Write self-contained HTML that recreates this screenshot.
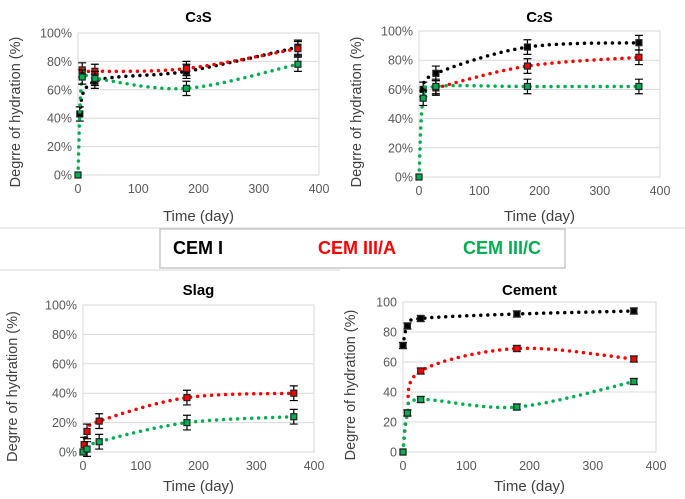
<!DOCTYPE html>
<html><head><meta charset="utf-8"><style>
body{margin:0;background:#fff;width:685px;height:499px;overflow:hidden;font-family:"Liberation Sans",sans-serif}
svg{display:block}
</style></head><body>
<svg id="s" width="685" height="499" xmlns="http://www.w3.org/2000/svg">
<line x1="0" y1="228" x2="685" y2="228" stroke="#d9d9d9"/>
<line x1="0" y1="270" x2="340" y2="270" stroke="#d9d9d9"/>
<g>
<rect x="160" y="229" width="405" height="39" fill="#fff" stroke="#c8c8c8" stroke-width="1.5"/>
<text x="173" y="254" font-size="18" font-weight="bold" fill="#000">CEM I</text>
<text x="318" y="254" font-size="18" font-weight="bold" fill="#ff0000">CEM III/A</text>
<text x="463" y="254" font-size="18" font-weight="bold" fill="#00b050">CEM III/C</text>
</g>
</svg>
<script>
// C3S
const c3sBlackX=[3,28,180,365], c3sBlackY=[43,66,73,90];
const c3sRedX=[7,28,180,365], c3sRedY=[74,73,75,89];
const c3sGreenX=[0,7,28,180,365], c3sGreenY=[0,69,68,61,78];
// C2S
const c2sBlackX=[7,28,180,365], c2sBlackY=[60,71,89,92];
const c2sRedX=[28,180,365], c2sRedY=[61,76,82];
const c2sGreenX=[0,7,28,180,365], c2sGreenY=[0,54,62,62,62];
// Slag
const slagRedX=[2,7,28,180,365], slagRedY=[5,14,21,37,40];
const slagGreenX=[0,7,28,180,365], slagGreenY=[0,2,7,20,24];
// Cement
const cemBlackX=[0,7,28,180,365], cemBlackY=[71,84,89,92,94];
const cemRedX=[0,7,28,180,365], cemRedY=[0,26,54,69,62];
const cemGreenX=[0,7,28,180,365], cemGreenY=[0,26,35,30,47];
const xTicks=[0,100,200,300,400];
const yTicks=[0,20,40,60,80,100];

const NS="http://www.w3.org/2000/svg";
const svg=document.getElementById('s');
function mk(tag,attrs,parent){const e=document.createElementNS(NS,tag);for(const k in attrs)e.setAttribute(k,attrs[k]);(parent||svg).appendChild(e);return e;}
const COL={black:'#000',red:'#ff0000',green:'#00b050'};

function chart(cfg){
  const g=mk('g',{});
  
  
  const {l,r,t,b}=cfg;
  const sx=v=>l+(v/400)*(r-l), sy=v=>b-(v/100)*(b-t);
  const bg=mk('rect',{x:l,y:t,width:r-l,height:b-t,fill:'#fff',stroke:'#d9d9d9'},g);
  
  
  yTicks.forEach(v=>{
    const ln=mk('line',{x1:l,x2:r,y1:sy(v),y2:sy(v),stroke:'#d9d9d9'},g);
    
    
    const tx=mk('text',{x:l-6,y:sy(v)+4.5,'font-size':12.5,'text-anchor':'end',fill:'#595959'},g);
    tx.textContent=cfg.pct?v+'%':v;
    
    
  });
  xTicks.forEach(v=>{
    const tx=mk('text',{x:sx(v),y:b+18,'font-size':12.5,'text-anchor':'middle',fill:'#595959'},g);
    tx.textContent=v;
    
    
  });
  const ti=mk('text',{x:(l+r)/2,y:cfg.titleY,'font-size':15,'font-weight':'bold','text-anchor':'middle',fill:'#000'},g);
  ti.innerHTML=cfg.title;
  
  
  const xt=mk('text',{x:(l+r)/2,y:cfg.xTitleY,'font-size':15,'text-anchor':'middle',fill:'#404040'},g);
  xt.textContent='Time (day)';
  
  
  const ym=(t+b)/2+8;
  const yt=mk('text',{x:cfg.yTitleX,y:ym,'font-size':14.5,'text-anchor':'middle',fill:'#404040',transform:`rotate(-90 ${cfg.yTitleX} ${ym})`},g);
  yt.textContent='Degrre of hydration (%)';
  
  
  cfg.series.forEach(s=>{
    const P=s.x.map((x,i)=>[sx(x),sy(s.y[i])]);
    let d='M'+P[0][0]+','+P[0][1];
    for(let i=0;i<P.length-1;i++){
      const p0=P[i-1]||P[i],p1=P[i],p2=P[i+1],p3=P[i+2]||p2;
      const c1=[p1[0]+(p2[0]-p0[0])/6,p1[1]+(p2[1]-p0[1])/6];
      const c2=[p2[0]-(p3[0]-p1[0])/6,p2[1]-(p3[1]-p1[1])/6];
      d+=`C${c1[0]},${c1[1]} ${c2[0]},${c2[1]} ${p2[0]},${p2[1]}`;
    }
    const path=mk('path',{d,fill:'none',stroke:COL[s.c],'stroke-width':3.5,'stroke-linecap':'round','stroke-dasharray':'0 7'},g);
    
    
    P.forEach((p,i)=>{
      if(cfg.err && !(s.y[i]===0)){
        const e=cfg.err*(b-t)/100;
        const eb=mk('path',{d:`M${p[0]},${p[1]-e}V${p[1]+e}M${p[0]-4},${p[1]-e}h8M${p[0]-4},${p[1]+e}h8`,stroke:'#000','stroke-width':1.2,fill:'none'},g);
        
        
      }
      const m=mk('rect',{x:p[0]-3,y:p[1]-3,width:6,height:6,fill:COL[s.c],stroke:'#222','stroke-width':1.2},g);
      
      
    });
  });
}
chart({name:'c3s',title:'C<tspan font-size="10">3</tspan>S',l:78,r:319,t:33,b:175,titleY:22,xTitleY:221,yTitleX:20,pct:true,err:5,
  series:[{c:'black',x:c3sBlackX,y:c3sBlackY},{c:'red',x:c3sRedX,y:c3sRedY},{c:'green',x:c3sGreenX,y:c3sGreenY}]});
chart({name:'c2s',title:'C<tspan font-size="10">2</tspan>S',l:419,r:660,t:31,b:177,titleY:22,xTitleY:221,yTitleX:361,pct:true,err:5,
  series:[{c:'black',x:c2sBlackX,y:c2sBlackY},{c:'red',x:c2sRedX,y:c2sRedY},{c:'green',x:c2sGreenX,y:c2sGreenY}]});
chart({name:'slag',title:'Slag',l:83,r:314,t:305,b:452,titleY:295,xTitleY:491,yTitleX:17,pct:true,err:5,
  series:[{c:'red',x:slagRedX,y:slagRedY},{c:'green',x:slagGreenX,y:slagGreenY}]});
chart({name:'cement',title:'Cement',l:403,r:656,t:302,b:452,titleY:295,xTitleY:491,yTitleX:355,pct:false,err:2,
  series:[{c:'black',x:cemBlackX,y:cemBlackY},{c:'red',x:cemRedX,y:cemRedY},{c:'green',x:cemGreenX,y:cemGreenY}]});
</script>
</body></html>
